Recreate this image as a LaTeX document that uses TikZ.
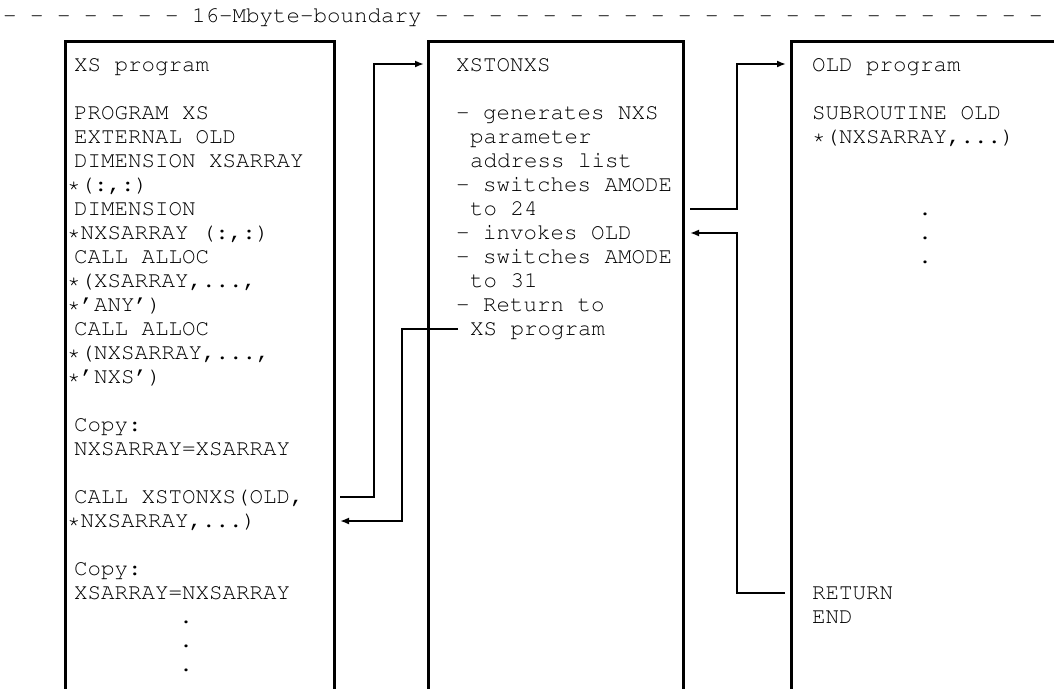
\documentclass[tikz,border=0pt]{standalone}
\usepackage[T1]{fontenc}
\usepackage{courier}
\usetikzlibrary{arrows.meta}
\begin{document}
\begin{tikzpicture}[x=1pt,y=-1pt,
  ln/.style={anchor=base west,inner sep=0pt,outer sep=0pt,text=black,font=\fontsize{22.5}{24}\selectfont\ttfamily},
  dt/.style={ln,anchor=base},
  boxside/.style={line width=3pt},
  conn/.style={line width=2pt},
  arr/.style={conn,-{Latex[length=9pt,width=7pt]}}]

\useasboundingbox (0,0) rectangle (1054,688);

% boundary line
\node[ln] (boundary) at (3,23) {- - - - - - - 16-Mbyte-boundary - - - - - - - - - - - - - - - - - - - - - - -};

% boxes (open at the bottom)
\coordinate (b1bl) at (65,690);  \coordinate (b1tl) at (65,41);
\coordinate (b1tr) at (334,41);  \coordinate (b1br) at (334,690);
\coordinate (b2bl) at (428,690); \coordinate (b2tl) at (428,41);
\coordinate (b2tr) at (683,41);  \coordinate (b2br) at (683,690);
\coordinate (b3bl) at (791,690); \coordinate (b3tl) at (791,41);
\coordinate (b3tr) at (1060,41);
\draw[boxside] (b1bl) -- (b1tl) -- (b1tr) -- (b1br);
\draw[boxside] (b2bl) -- (b2tl) -- (b2tr) -- (b2br);
\draw[boxside] (b3bl) -- (b3tl) -- (b3tr);

% box 1 : XS program
\node[ln] (xst)  at (74,71.5)  {XS program};
\node[ln] (xs0)  at (74,119.5) {PROGRAM XS};
\node[ln] (xs1)  at (74,143.5) {EXTERNAL OLD};
\node[ln] (xs2)  at (74,167.5) {DIMENSION XSARRAY};
\node[ln] (xs3)  at (67,191.5) {*(:,:)};
\node[ln] (xs4)  at (74,215.5) {DIMENSION};
\node[ln] (xs5)  at (67,239.5) {*NXSARRAY (:,:)};
\node[ln] (xs6)  at (74,263.5) {CALL ALLOC};
\node[ln] (xs7)  at (67,287.5) {*(XSARRAY,...,};
\node[ln] (xs8)  at (67,311.5) {*'ANY')};
\node[ln] (xs9)  at (74,335.5) {CALL ALLOC};
\node[ln] (xs10) at (67,359.5) {*(NXSARRAY,...,};
\node[ln] (xs11) at (67,383.5) {*'NXS')};
\node[ln] (xs13) at (74,431.5) {Copy:};
\node[ln] (xs14) at (74,455.5) {NXSARRAY=XSARRAY};
\node[ln] (xs16) at (74,503.5) {CALL XSTONXS(OLD,};
\node[ln] (xs17) at (67,527.5) {*NXSARRAY,...)};
\node[ln] (xs19) at (74,575.5) {Copy:};
\node[ln] (xs20) at (74,599.5) {XSARRAY=NXSARRAY};
\node[dt] (xsd1) at (186,623.5) {.};
\node[dt] (xsd2) at (186,647.5) {.};
\node[dt] (xsd3) at (186,671.5) {.};

% box 2 : XSTONXS
\node[ln] (ntt) at (456,71.5)  {XSTONXS};
\node[ln] (nt0) at (456,119.5) {- generates NXS};
\node[ln] (nt1) at (470,143.5) {parameter};
\node[ln] (nt2) at (470,167.5) {address list};
\node[ln] (nt3) at (456,191.5) {- switches AMODE};
\node[ln] (nt4) at (470,215.5) {to 24};
\node[ln] (nt5) at (456,239.5) {- invokes OLD};
\node[ln] (nt6) at (456,263.5) {- switches AMODE};
\node[ln] (nt7) at (470,287.5) {to 31};
\node[ln] (nt8) at (456,311.5) {- Return to};
\node[ln] (nt9) at (470,335.5) {XS program};

% box 3 : OLD program
\node[ln] (oldt) at (812,71.5)  {OLD program};
\node[ln] (old0) at (812,119.5) {SUBROUTINE OLD};
\node[ln] (old1) at (812,143.5) {*(NXSARRAY,...)};
\node[dt] (oldd1) at (925,215.5) {.};
\node[dt] (oldd2) at (925,239.5) {.};
\node[dt] (oldd3) at (925,263.5) {.};
\node[ln] (old20) at (812,599.5) {RETURN};
\node[ln] (old21) at (812,623.5) {END};

% connector ends and corners
\coordinate (c1s) at (340,497); \coordinate (c1m) at (374,497);
\coordinate (c1n) at (374,64);  \coordinate (c1e) at (424,64);
\coordinate (c2s) at (458,329); \coordinate (c2m) at (402,329);
\coordinate (c2n) at (402,521); \coordinate (c2e) at (340,521);
\coordinate (c3s) at (690,209); \coordinate (c3m) at (737,209);
\coordinate (c3n) at (737,64);  \coordinate (c3e) at (786,64);
\coordinate (c4s) at (785,593); \coordinate (c4m) at (737,593);
\coordinate (c4n) at (737,233); \coordinate (c4e) at (690,233);

\draw[arr] (c1s) -- (c1m) -- (c1n) -- (c1e);
\draw[arr] (c2s) -- (c2m) -- (c2n) -- (c2e);
\draw[arr] (c3s) -- (c3m) -- (c3n) -- (c3e);
\draw[arr] (c4s) -- (c4m) -- (c4n) -- (c4e);
\end{tikzpicture}
\end{document}
